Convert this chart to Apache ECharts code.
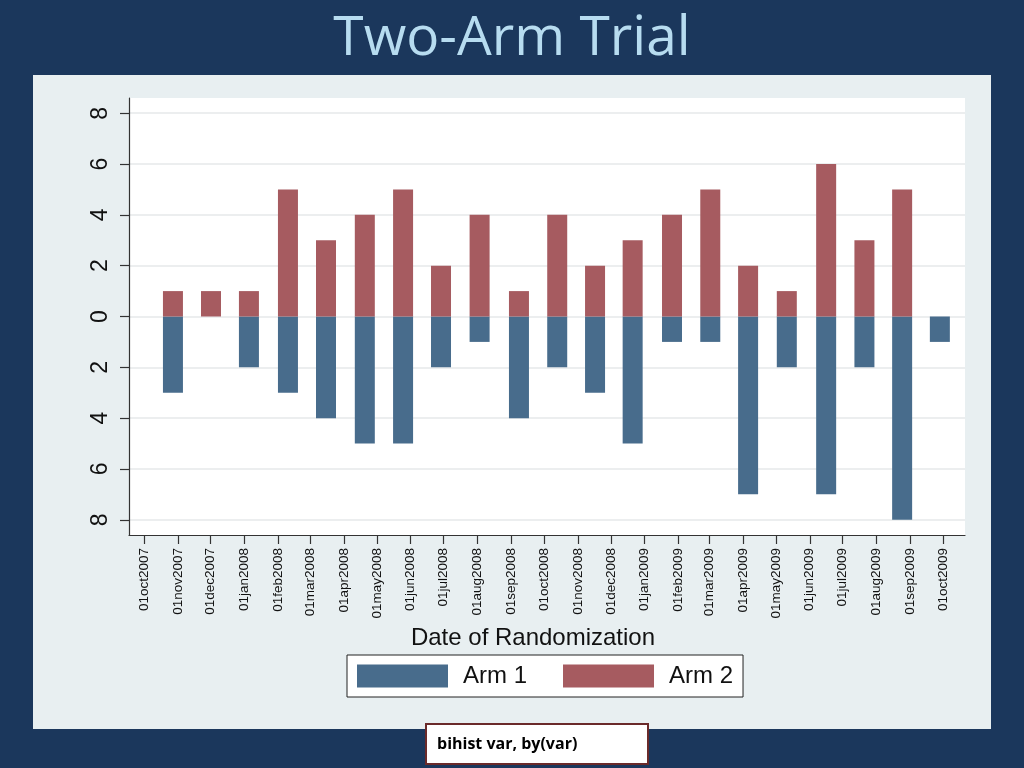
<!DOCTYPE html>
<html>
<head>
<meta charset="utf-8">
<script src="https://cdn.jsdelivr.net/npm/echarts@6/dist/echarts.min.js"></script>
<style>
html,body{margin:0;padding:0;background:#1b375c;}
#c{width:1024px;height:768px;}
</style>
</head>
<body>
<div id="c"></div>
<script>
// Tick labels (month starts)
var monthLabels = ['01oct2007','01nov2007','01dec2007','01jan2008','01feb2008','01mar2008','01apr2008','01may2008','01jun2008','01jul2008','01aug2008','01sep2008','01oct2008','01nov2008','01dec2008','01jan2009','01feb2009','01mar2009','01apr2009','01may2009','01jun2009','01jul2009','01aug2009','01sep2009','01oct2009'];
// Bin centres, in days since 01oct2007
var binCenters = [26.5, 61.3, 96, 131.7, 166.5, 202, 237, 271.7, 307, 343, 378, 412.6, 447, 483, 518, 552.6, 588, 624, 659, 693.5, 728];
// Counts per bin
var arm1 = [3, 0, 2, 3, 4, 5, 5, 2, 1, 4, 2, 3, 5, 1, 1, 7, 2, 7, 2, 8, 1];
var arm2 = [1, 1, 1, 5, 3, 4, 5, 2, 4, 1, 4, 2, 3, 4, 5, 2, 1, 6, 3, 5, 0];
var yTicks = [-8, -6, -4, -2, 0, 2, 4, 6, 8];

var monNames = {jan:0,feb:1,mar:2,apr:3,may:4,jun:5,jul:6,aug:7,sep:8,oct:9,nov:10,dec:11};
var origin = Date.UTC(2007, 9, 1);
function labelToDay(s){
  var m = monNames[s.substr(2,3)], y = +s.substr(5,4);
  return Math.round((Date.UTC(y, m, 1) - origin) / 86400000);
}
var monthDays = monthLabels.map(labelToDay);
var dayToLabel = {};
monthDays.forEach(function(d,i){ dayToLabel[d] = monthLabels[i]; });

var chart = echarts.init(document.getElementById('c'));
chart.setOption({
  backgroundColor: '#1b375c',
  animation: false,
  title: {
    text: 'Two-Arm Trial',
    left: 'center',
    top: 7,
    textStyle: {color: '#b7dcf0', fontSize: 55, fontWeight: 'normal', fontFamily: 'Open Sans'}
  },
  graphic: [
    {type: 'rect', z: -10, shape: {x: 33, y: 75, width: 958, height: 654}, style: {fill: '#e8eff1'}},
    {type: 'rect', z: 10, shape: {x: 426, y: 724, width: 222, height: 40}, style: {fill: '#ffffff', stroke: '#6a2a2a', lineWidth: 2}},
    {type: 'text', z: 11, x: 437, y: 744, style: {text: 'bihist var, by(var)', fill: '#000', font: 'bold 16px "Open Sans"', textVerticalAlign: 'middle'}}
  ],
  legend: {
    left: 347, top: 655,
    orient: 'horizontal',
    data: ['Arm 1', 'Arm 2'],
    icon: 'rect',
    itemWidth: 91, itemHeight: 23,
    itemGap: 36,
    padding: [9, 10, 9, 10],
    backgroundColor: '#ffffff',
    borderColor: '#222',
    borderWidth: 1,
    borderRadius: 0,
    textStyle: {fontSize: 24, color: '#111', fontFamily: 'Liberation Sans', padding: [0, 0, 0, 10]}
  },
  grid: {
    left: 129, right: 59, top: 98, bottom: 233,
    show: true, backgroundColor: '#ffffff', borderWidth: 0,
    containLabel: false
  },
  xAxis: {
    type: 'value',
    min: -13.7, max: 751,
    name: 'Date of Randomization',
    nameLocation: 'middle',
    nameGap: 91,
    nameTextStyle: {fontSize: 24, color: '#111', fontFamily: 'Liberation Sans', padding: [0, 28, 0, 0]},
    axisLine: {show: true, onZero: false, lineStyle: {color: '#333', width: 1.2}},
    axisTick: {show: true, length: 9, lineStyle: {color: '#333', width: 1.2}, customValues: monthDays},
    axisLabel: {
      rotate: 90, fontSize: 13.5, color: '#111', fontFamily: 'Liberation Sans', margin: 13,
      customValues: monthDays,
      formatter: function(v){ return dayToLabel[Math.round(v)] || ''; }
    },
    splitLine: {show: false}
  },
  yAxis: {
    type: 'value',
    min: -8.6, max: 8.6,
    axisLine: {show: true, onZero: false, lineStyle: {color: '#333', width: 1.2}},
    axisTick: {show: true, length: 9, lineStyle: {color: '#333', width: 1.2}, customValues: yTicks},
    axisLabel: {
      rotate: 90, fontSize: 23, color: '#111', fontFamily: 'Liberation Sans', margin: 17,
      customValues: yTicks,
      formatter: function(v){ return String(Math.abs(v)); }
    },
    splitLine: {show: false}
  },
  series: [
    {
      name: 'Arm 1', type: 'bar', barWidth: 20, barGap: '-100%', z: 5,
      itemStyle: {color: '#486c8c'},
      data: binCenters.map(function(x,i){ return [x, -arm1[i]]; })
    },
    {
      name: 'Arm 2', type: 'bar', barWidth: 20, barGap: '-100%', z: 5,
      itemStyle: {color: '#a65b60'},
      data: binCenters.map(function(x,i){ return [x, arm2[i]]; })
    },
    {
      type: 'line', silent: true, data: [], z: 0,
      markLine: {
        silent: true, symbol: 'none', label: {show: false}, z: 0,
        lineStyle: {color: '#e6e9ea', width: 1.5, type: 'solid'},
        data: yTicks.map(function(v){ return {yAxis: v}; })
      }
    }
  ]
});
</script>
</body>
</html>
